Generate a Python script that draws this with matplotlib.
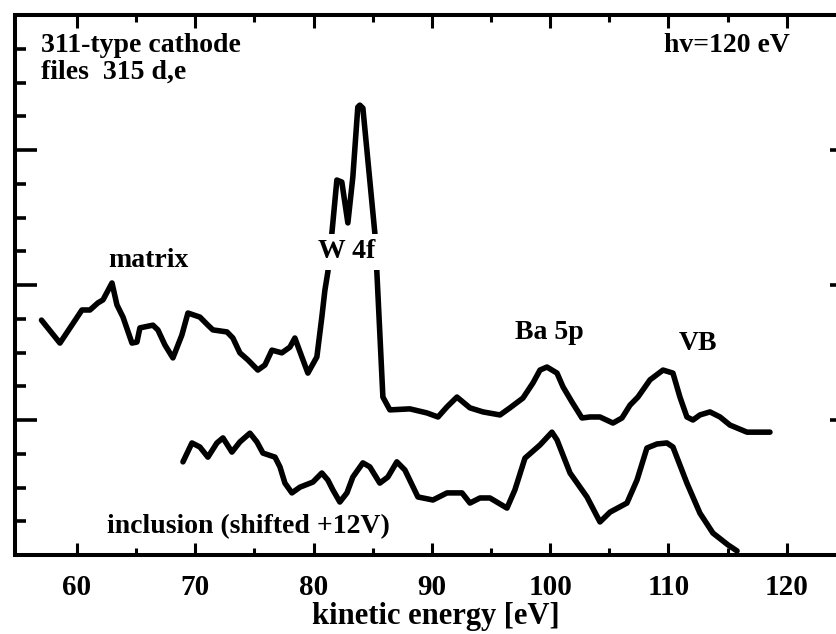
import matplotlib.pyplot as plt

# upper spectrum (matrix), kinetic energy [eV] vs intensity (arb. units)
matrix_e = [57.0, 58.56, 60.42, 61.1, 61.77, 62.2, 62.96, 63.38, 63.89, 64.65,
            65.07, 65.32, 66.42, 66.84, 67.44, 68.11, 68.87, 69.38, 70.39, 71.07,
            71.49, 72.68, 73.18, 73.77, 74.45, 75.29, 75.89, 76.48, 77.32, 78.0,
            78.42, 79.01, 79.52, 80.28, 80.7, 80.96, 81.21, 81.55, 81.97, 82.39,
            82.9, 83.32, 83.74, 83.91, 84.17, 84.59, 85.18, 85.35, 85.6, 85.86,
            86.45, 88.14, 89.58, 90.52, 91.28, 92.12, 93.22, 94.32, 95.76, 96.6,
            97.7, 98.55, 99.14, 99.73, 100.58, 101.09, 101.85, 102.69, 103.37, 104.21,
            105.31, 106.07, 106.75, 107.42, 108.44, 109.54, 110.38, 110.97, 111.56, 112.07,
            112.66, 113.51, 114.36, 115.2, 116.64, 118.58]
matrix_i = [6.96, 6.28, 7.26, 7.26, 7.47, 7.56, 8.06, 7.41, 7.05, 6.28,
            6.31, 6.73, 6.81, 6.67, 6.22, 5.84, 6.52, 7.17, 7.05, 6.81,
            6.67, 6.61, 6.43, 5.99, 5.78, 5.48, 5.63, 6.07, 5.99, 6.16,
            6.43, 5.87, 5.39, 5.87, 7.05, 7.85, 8.39, 9.54, 11.11, 11.05,
            9.84, 11.2, 13.27, 13.33, 13.24, 11.7, 9.54, 8.39, 6.58, 4.68,
            4.30, 4.33, 4.21, 4.09, 4.39, 4.68, 4.36, 4.24, 4.15, 4.36,
            4.65, 5.10, 5.48, 5.57, 5.39, 4.98, 4.53, 4.06, 4.09, 4.09,
            3.91, 4.06, 4.44, 4.68, 5.19, 5.48, 5.39, 4.68, 4.09, 4.0,
            4.15, 4.24, 4.09, 3.85, 3.64, 3.64]

# lower spectrum (inclusion, shifted +12 V)
incl_e = [68.96, 69.72, 70.39, 71.07, 71.83, 72.34, 73.1, 73.77, 74.62, 75.21,
          75.72, 76.74, 77.16, 77.58, 78.17, 78.85, 79.94, 80.7, 81.21, 81.63,
          82.22, 82.82, 83.32, 84.17, 84.76, 85.6, 86.28, 87.04, 87.72, 88.82,
          90.09, 91.28, 92.55, 93.22, 94.07, 94.91, 96.35, 97.02, 97.87, 99.14,
          100.15, 100.58, 101.68, 103.11, 104.21, 105.06, 106.49, 107.34, 108.18, 109.03,
          109.87, 110.38, 111.56, 112.66, 113.76, 115.03, 115.8]
incl_i = [2.76, 3.32, 3.2, 2.9, 3.32, 3.47, 3.05, 3.35, 3.61, 3.35,
          3.02, 2.9, 2.61, 2.13, 1.84, 2.01, 2.16, 2.43, 2.22, 1.93,
          1.57, 1.84, 2.31, 2.73, 2.61, 2.13, 2.31, 2.76, 2.52, 1.72,
          1.63, 1.84, 1.84, 1.54, 1.69, 1.69, 1.39, 1.93, 2.87, 3.26,
          3.64, 3.41, 2.43, 1.72, 0.98, 1.27, 1.54, 2.22, 3.17, 3.29,
          3.32, 3.2, 2.13, 1.24, 0.65, 0.3, 0.12]

x_major = [60, 70, 80, 90, 100, 110, 120]
x_minor = [65, 75, 85, 95, 105, 115]
y_major = [4, 8, 12]
y_minor = [1, 2, 3, 5, 6, 7, 9, 10, 11, 13, 14, 15]

plt.rcParams['font.family'] = ['Liberation Serif', 'DejaVu Serif']
plt.rcParams['font.weight'] = 'bold'

fig = plt.figure(figsize=(8.37, 6.34), dpi=100)
ax = fig.add_axes([0.0179, 0.1246, 0.9916, 0.8517])

ax.plot(matrix_e, matrix_i, color='black', lw=4,
        solid_joinstyle='round', solid_capstyle='round')
ax.plot(incl_e, incl_i, color='black', lw=4,
        solid_joinstyle='round', solid_capstyle='round')

ax.set_xlim(54.76, 124.92)
ax.set_ylim(0, 16)

for s in ax.spines.values():
    s.set_linewidth(2.9)

ax.set_xticks(x_major)
ax.set_xticks(x_minor, minor=True)
ax.set_yticks(y_major)
ax.set_yticks(y_minor, minor=True)
ax.set_yticklabels([])
ax.tick_params(axis='x', which='both', direction='in', top=True, width=2.2,
               labelsize=21, pad=14)
ax.tick_params(axis='x', which='major', length=9)
ax.tick_params(axis='x', which='minor', length=5)
ax.tick_params(axis='y', which='both', direction='in', right=False, width=2.6)
ax.tick_params(axis='y', which='major', length=16)
ax.tick_params(axis='y', which='minor', length=8)

ax2 = ax.secondary_yaxis('right')
ax2.set_yticks(y_major)
ax2.set_yticks(y_minor, minor=True)
ax2.set_yticklabels([])
ax2.tick_params(axis='y', which='both', direction='in', width=2.6)
ax2.tick_params(axis='y', which='major', length=11)
ax2.tick_params(axis='y', which='minor', length=6)
ax2.spines['right'].set_linewidth(2.9)

# axis title placed just under the tick labels, as in the scan
fig.text(0.521, 0.027, 'kinetic energy [eV]', fontsize=22, ha='center', va='center')

fs = 20
ax.text(57.0, 15.1, '311-type cathode', fontsize=fs, ha='left', va='center')
ax.text(57.0, 14.3, 'files  315 d,e', fontsize=fs, ha='left', va='center')
ax.text(120.3, 15.1, 'hv=120 eV', fontsize=fs, ha='right', va='center')
ax.text(66.0, 8.74, 'matrix', fontsize=fs, ha='center', va='center')
ax.text(82.8, 8.98, 'W 4f', fontsize=fs, ha='center', va='center', zorder=5,
        bbox=dict(facecolor='white', edgecolor='none', pad=4))
ax.text(99.9, 6.58, 'Ba 5p', fontsize=fs, ha='center', va='center')
ax.text(112.5, 6.28, 'VB', fontsize=fs, ha='center', va='center')
ax.text(74.5, 0.83, 'inclusion (shifted +12V)', fontsize=fs, ha='center', va='center')

fig.savefig('out.png', dpi=100)
